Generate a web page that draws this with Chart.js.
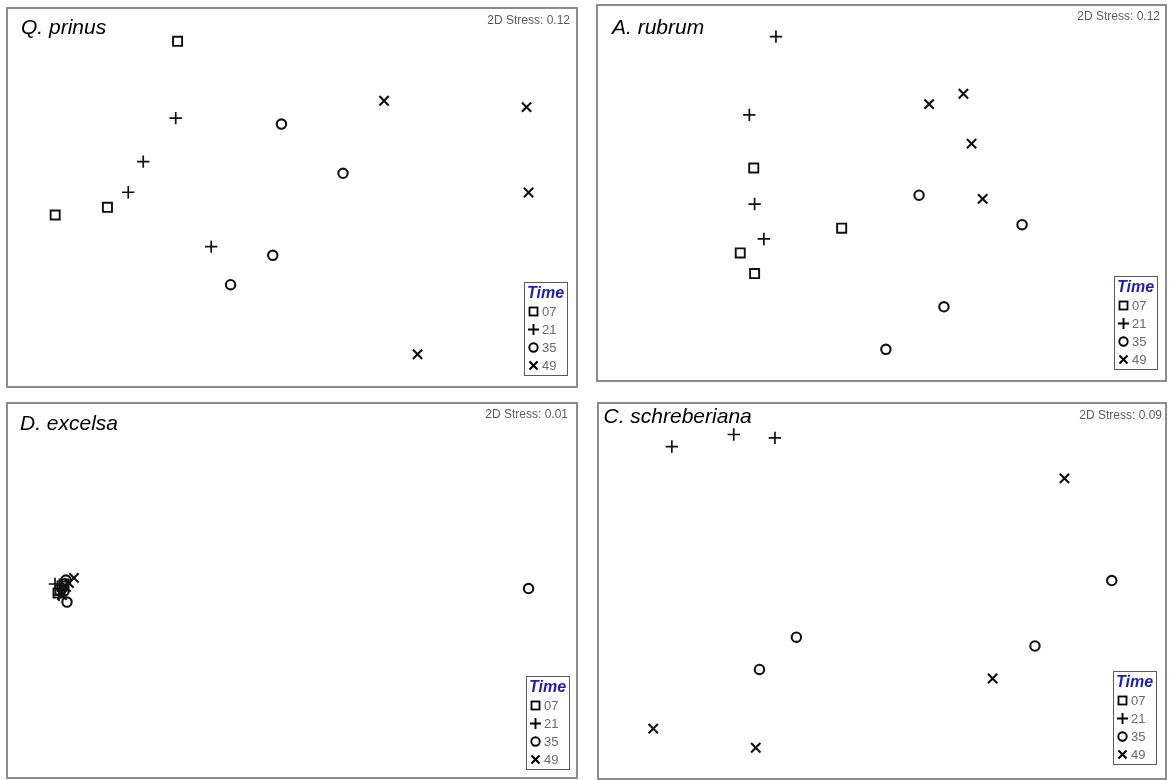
<!DOCTYPE html>
<html>
<head>
<meta charset="utf-8">
<script src="https://cdn.jsdelivr.net/npm/chart.js@4.4.1/dist/chart.umd.min.js"></script>
<style>
  html, body { margin: 0; padding: 0; background: #fff; width: 1169px; height: 780px; overflow: hidden;
    font-family: "Liberation Sans", Arial, Helvetica, sans-serif; }
  canvas.plot { position: absolute; }
  .frame { position: absolute; box-sizing: border-box; border: 2px solid #8c8c8c; pointer-events: none; }
  .title { position: absolute; font-style: italic; font-size: 21px; line-height: 21px; color: #000; white-space: nowrap; }
  .stress { position: absolute; font-size: 12px; line-height: 12px; color: #5c5c5c; white-space: nowrap; text-align: right; }
  .legend { position: absolute; width: 44px; height: 94px; box-sizing: border-box; border: 1px solid #5a5a5a; background: #fff; }
  .legend .head { position: absolute; left: 2px; top: 2px; font-size: 16px; line-height: 16px; font-weight: bold;
    font-style: italic; color: #1e1eb4; white-space: nowrap; }
  .legend .row { position: absolute; left: 0; height: 14px; width: 42px; }
  .legend .row svg { position: absolute; left: 3px; top: 1px; }
  .legend .row span { position: absolute; left: 17px; top: 0; font-size: 13px; line-height: 14px; color: #6a6a6a; }
</style>
</head>
<body>
<script>
// Sampling times (days) and panel labels
const timeLabels = ['07', '21', '35', '49'];
const speciesNames = ['Q. prinus', 'A. rubrum', 'D. excelsa', 'C. schreberiana'];
const stressValues = ['0.12', '0.12', '0.01', '0.09'];

// NMDS ordination scores [axis 1, axis 2] for each species and sampling time
const qPrinus07 = [[-0.803, 1.096], [-1.295, -0.069], [-1.662, -0.123]];
const qPrinus21 = [[-0.816, 0.557], [-1.044, 0.252], [-1.149, 0.037], [-0.567, -0.345]];
const qPrinus35 = [[-0.074, 0.515], [0.358, 0.170], [-0.135, -0.406], [-0.431, -0.612]];
const qPrinus49 = [[0.646, 0.679], [1.646, 0.634], [1.660, 0.035], [0.881, -1.100]];

const aRubrum07 = [[-0.898, 0.177], [-0.993, -0.424], [-0.892, -0.570], [-0.280, -0.249]];
const aRubrum21 = [[-0.742, 1.106], [-0.929, 0.553], [-0.892, -0.078], [-0.827, -0.325]];
const aRubrum35 = [[0.264, -0.016], [0.988, -0.224], [0.439, -0.805], [0.031, -1.106]];
const aRubrum49 = [[0.335, 0.629], [0.576, 0.702], [0.633, 0.349], [0.711, -0.042]];

const dExcelsa07 = [[-1.628, 0.004], [-1.614, 0.032], [-1.642, -0.018], [-1.600, 0.046]];
const dExcelsa21 = [[-1.663, 0.046], [-1.635, -0.032], [-1.621, 0.011]];
const dExcelsa35 = [[-1.579, -0.082], [-1.586, 0.074], [-1.600, -0.004], [1.660, 0.014]];
const dExcelsa49 = [[-1.530, 0.089], [-1.586, 0.025], [-1.614, -0.032], [-1.565, 0.053]];

const cSchreb07 = [];
const cSchreb21 = [[-1.480, 1.022], [-1.044, 1.107], [-0.754, 1.083]];
const cSchreb35 = [[1.618, 0.074], [-0.603, -0.327], [1.077, -0.389], [-0.863, -0.555]];
const cSchreb49 = [[1.285, 0.797], [0.779, -0.619], [-1.611, -0.974], [-0.889, -1.109]];

const speciesSeries = [
  [qPrinus07, qPrinus21, qPrinus35, qPrinus49],
  [aRubrum07, aRubrum21, aRubrum35, aRubrum49],
  [dExcelsa07, dExcelsa21, dExcelsa35, dExcelsa49],
  [cSchreb07, cSchreb21, cSchreb35, cSchreb49]
];

// Page layout of each ordination panel
const panelBoxes = [
  { left: 7,   top: 8,   width: 570, height: 379 },
  { left: 597, top: 5,   width: 569, height: 376 },
  { left: 7,   top: 403, width: 570, height: 375 },
  { left: 598, top: 403, width: 568, height: 376 }
];
const titleSpots  = [[21, 34], [612, 34], [20, 430], [603.5, 423]];   // left, baseline
const stressSpots = [[570, 24], [1160, 20], [568, 418], [1162, 419.5]]; // right, baseline
const legendSpots = [[524, 282], [1114, 276], [526, 676], [1113, 671]];

// Marker styling per sampling time
const markerStyle  = ['rect', 'cross', 'circle', 'crossRot'];
const markerRadius = [6.4, 6.2, 4.7, 6.6];
const markerWidth  = [1.9, 1.7, 2.1, 2.1];

const legendSvg = [
  '<svg width="11" height="11"><rect x="1.5" y="1.5" width="8" height="8" fill="none" stroke="#000" stroke-width="1.8"/></svg>',
  '<svg width="11" height="11"><path d="M0 5.5H11M5.5 0V11" stroke="#000" stroke-width="1.9"/></svg>',
  '<svg width="11" height="11"><circle cx="5.5" cy="5.5" r="4.2" fill="none" stroke="#000" stroke-width="1.9"/></svg>',
  '<svg width="11" height="11"><path d="M1.5 1.5L9.5 9.5M9.5 1.5L1.5 9.5" stroke="#000" stroke-width="2.1"/></svg>'
];

function addEl(cls, html, css) {
  const el = document.createElement('div');
  el.className = cls;
  el.innerHTML = html;
  Object.assign(el.style, css);
  document.body.appendChild(el);
  return el;
}

speciesSeries.forEach((series, p) => {
  const box = panelBoxes[p];

  const canvas = document.createElement('canvas');
  canvas.className = 'plot';
  canvas.width = box.width;
  canvas.height = box.height;
  canvas.style.left = box.left + 'px';
  canvas.style.top = box.top + 'px';
  canvas.style.width = box.width + 'px';
  canvas.style.height = box.height + 'px';
  document.body.appendChild(canvas);

  new Chart(canvas, {
    type: 'scatter',
    data: {
      datasets: series.map((pts, i) => ({
        label: timeLabels[i],
        data: pts.map(v => ({ x: v[0], y: v[1] })),
        pointStyle: markerStyle[i],
        pointRadius: markerRadius[i],
        pointHoverRadius: markerRadius[i],
        borderWidth: markerWidth[i],
        borderColor: '#111',
        backgroundColor: 'rgba(0,0,0,0)',
        clip: false
      }))
    },
    options: {
      responsive: false,
      animation: false,
      events: [],
      layout: { padding: 0, autoPadding: false },
      scales: {
        x: { type: 'linear', display: false, min: -2, max: 2 },
        y: { type: 'linear', display: false, min: -1.33, max: 1.33 }
      },
      plugins: { legend: { display: false }, tooltip: { enabled: false } }
    }
  });

  // panel border
  addEl('frame', '', {
    left: (box.left - 1) + 'px', top: (box.top - 1) + 'px',
    width: (box.width + 2) + 'px', height: (box.height + 2) + 'px'
  });

  // species name
  addEl('title', speciesNames[p], {
    left: titleSpots[p][0] + 'px', top: (titleSpots[p][1] - 17.8) + 'px'
  });

  // stress value
  addEl('stress', '2D Stress: ' + stressValues[p], {
    right: (1169 - stressSpots[p][0]) + 'px', top: (stressSpots[p][1] - 10.3) + 'px'
  });

  // legend
  let rows = '<div class="head">Time</div>';
  timeLabels.forEach((lab, i) => {
    rows += '<div class="row" style="top:' + (22 + 18 * i) + 'px">' + legendSvg[i] + '<span>' + lab + '</span></div>';
  });
  addEl('legend', rows, { left: legendSpots[p][0] + 'px', top: legendSpots[p][1] + 'px' });
});
</script>
</body>
</html>
